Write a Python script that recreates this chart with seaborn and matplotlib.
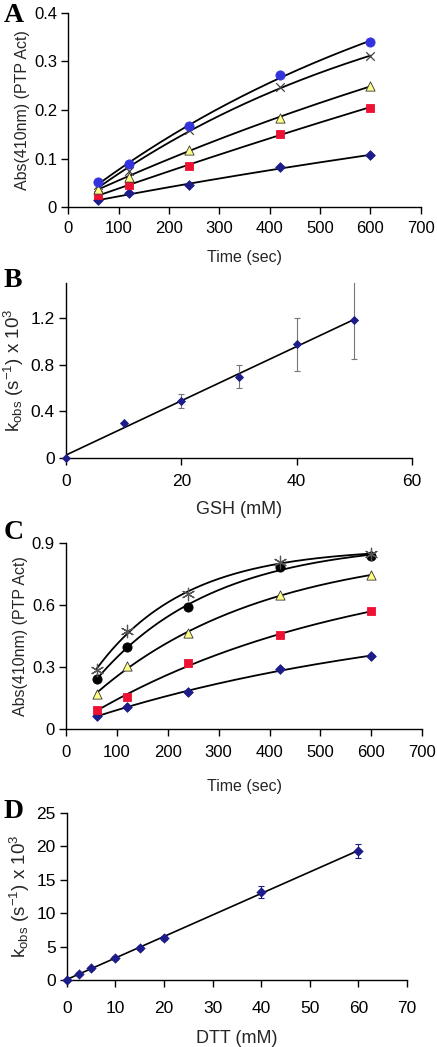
import numpy as np
import pandas as pd
import seaborn as sns
import matplotlib
matplotlib.use('Agg')
import matplotlib.pyplot as plt

sns.set_theme(style="ticks", palette=None)
plt.rcParams['font.family'] = ['Liberation Sans', 'DejaVu Sans']
plt.rcParams['mathtext.fontset'] = 'custom'
plt.rcParams['mathtext.rm'] = 'Liberation Sans'
plt.rcParams['mathtext.it'] = 'Liberation Sans'

# ---------------- data ----------------
time_s = [60, 120, 240, 420, 600]

# panel A (GSH)
a_diamond = [0.014, 0.029, 0.045, 0.082, 0.107]
a_square = [0.025, 0.046, 0.085, 0.151, 0.205]
a_triangle = [0.037, 0.063, 0.118, 0.184, 0.249]
a_cross = [0.046, 0.074, 0.158, 0.247, 0.310]
a_circle = [0.051, 0.088, 0.166, 0.271, 0.340]

# panel B
gsh_mm = [0, 10, 20, 30, 40, 50]
gsh_kobs = [0.0, 0.30, 0.487, 0.696, 0.974, 1.183]
gsh_err = [0.0, 0.0, 0.06, 0.10, 0.225, 0.335]

# panel C (DTT)
c_diamond = [0.062, 0.107, 0.180, 0.288, 0.353]
c_square = [0.094, 0.155, 0.317, 0.453, 0.571]
c_triangle = [0.168, 0.304, 0.463, 0.646, 0.746]
c_circle = [0.241, 0.395, 0.591, 0.785, 0.835]
c_star = [0.285, 0.474, 0.652, 0.808, 0.847]

# panel D
dtt_mm = [0, 2.5, 5, 10, 15, 20, 40, 60]
dtt_kobs = [0.0, 0.95, 1.75, 3.35, 4.85, 6.35, 13.15, 19.3]
dtt_err = [0.0, 0.2, 0.25, 0.3, 0.3, 0.3, 0.9, 1.05]

NAVY = '#1c1c8a'
KOBS = r'k$_{\mathregular{obs}}$ (s$^{\mathregular{-1}}$) x 10$^{\mathregular{3}}$'

series_a = [
    (a_diamond, 'D', NAVY, NAVY, 24),
    (a_square, 's', '#ee1133', '#ee1133', 38),
    (a_triangle, '^', '#ffff88', '#333333', 44),
    (a_cross, 'x', '#444444', '#444444', 38),
    (a_circle, 'o', '#3333dd', '#3333dd', 44),
]
series_c = [
    (c_diamond, 'D', NAVY, NAVY, 24),
    (c_square, 's', '#ee1133', '#ee1133', 38),
    (c_triangle, '^', '#ffff88', '#333333', 44),
    (c_circle, 'o', 'black', 'black', 44),
    (c_star, (6, 2, 0), '#555555', '#555555', 80),
]


def exp_fit(x, y):
    # y = a + b*exp(-k x), best k by grid search
    x = np.asarray(x, float)
    y = np.asarray(y, float)
    best = None
    for k in np.linspace(1e-5, 0.01, 2000):
        A = np.column_stack([np.ones_like(x), np.exp(-k * x)])
        coef, *_ = np.linalg.lstsq(A, y, rcond=None)
        r = np.sum((A @ coef - y) ** 2)
        if best is None or r < best[0]:
            best = (r, k, coef)
    _, k, coef = best
    xs = np.linspace(x.min(), x.max(), 200)
    return xs, coef[0] + coef[1] * np.exp(-k * xs)


def style_axis(ax, size, xpad):
    sns.despine(ax=ax)
    for sp in ['left', 'bottom']:
        ax.spines[sp].set_linewidth(1.0)
        ax.spines[sp].set_color('black')
    ax.tick_params(direction='out', length=5, width=1.0, colors='black',
                   labelsize=size, pad=3)
    ax.tick_params(axis='x', pad=xpad)


def time_panel(ax, series, ymax, yticks, ylabels, xpad, lpad):
    for vals, mk, fc, ec, s in series:
        xs, ys = exp_fit(time_s, vals)
        ax.plot(xs, ys, color='black', lw=1.3, zorder=2)
    for vals, mk, fc, ec, s in series:
        df = pd.DataFrame({'t': time_s, 'y': vals})
        if mk in ('x',) or isinstance(mk, tuple):
            sns.scatterplot(data=df, x='t', y='y', marker=mk, color=fc, s=s,
                            linewidth=0.9, ax=ax, zorder=3)
        else:
            sns.scatterplot(data=df, x='t', y='y', marker=mk, color=fc,
                            edgecolor=ec, s=s, linewidth=0.6, ax=ax, zorder=3)
    ax.set_xlim(0, 700)
    ax.set_ylim(0, ymax)
    ax.set_xticks(range(0, 701, 100))
    ax.set_yticks(yticks)
    ax.set_yticklabels(ylabels)
    ax.set_xlabel('Time (sec)', fontsize=11.5, labelpad=lpad)
    ax.set_ylabel('Abs(410nm) (PTP Act)', fontsize=11.5, labelpad=3)
    style_axis(ax, 12, xpad)


fig = plt.figure(figsize=(4.37, 10.47), dpi=100)

axA = fig.add_axes([0.156, 0.802, 0.807, 0.186])
axB = fig.add_axes([0.151, 0.5626, 0.792, 0.1671])
axC = fig.add_axes([0.151, 0.3037, 0.815, 0.1777])
axD = fig.add_axes([0.153, 0.064, 0.778, 0.1595])

# A
time_panel(axA, series_a, 0.4, [0, 0.1, 0.2, 0.3, 0.4], ['0', '0.1', '0.2', '0.3', '0.4'],
           xpad=5, lpad=10)

# B
dfB = pd.DataFrame({'x': gsh_mm, 'y': gsh_kobs, 'e': gsh_err})
pB = np.polyfit(gsh_mm, gsh_kobs, 1)
xb = np.array([0, 50])
axB.plot(xb, np.polyval(pB, xb), color='black', lw=1.2, zorder=2)
axB.errorbar(dfB['x'], dfB['y'], yerr=dfB['e'], fmt='none', ecolor='#777777',
             elinewidth=0.8, capsize=2.5, capthick=0.8, zorder=2)
sns.scatterplot(data=dfB, x='x', y='y', marker='D', color=NAVY, s=22,
                linewidth=0, ax=axB, zorder=3, clip_on=False)
axB.set_xlim(0, 60)
axB.set_ylim(0, 1.5)
axB.set_xticks([0, 20, 40, 60])
axB.set_yticks([0, 0.4, 0.8, 1.2])
axB.set_yticklabels(['0', '0.4', '0.8', '1.2'])
axB.set_xlabel('GSH (mM)', fontsize=13, labelpad=9)
axB.set_ylabel(KOBS, fontsize=13.5, labelpad=3)
style_axis(axB, 12.5, 6.5)

# C
time_panel(axC, series_c, 0.9, [0, 0.3, 0.6, 0.9], ['0', '0.3', '0.6', '0.9'],
           xpad=6.5, lpad=14)

# D
dfD = pd.DataFrame({'x': dtt_mm, 'y': dtt_kobs, 'e': dtt_err})
pD = np.polyfit(dtt_mm, dtt_kobs, 1)
xd = np.array([0, 60])
axD.plot(xd, np.polyval(pD, xd), color='black', lw=1.2, zorder=2)
axD.errorbar(dfD['x'], dfD['y'], yerr=dfD['e'], fmt='none', ecolor=NAVY,
             elinewidth=0.8, capsize=2.5, capthick=0.8, zorder=2)
sns.scatterplot(data=dfD, x='x', y='y', marker='D', color=NAVY, s=28,
                linewidth=0, ax=axD, zorder=3, clip_on=False)
axD.set_xlim(0, 70)
axD.set_ylim(0, 25)
axD.set_xticks(range(0, 71, 10))
axD.set_yticks(range(0, 26, 5))
axD.set_xlabel('DTT (mM)', fontsize=13, labelpad=10)
axD.set_ylabel(KOBS, fontsize=13.5, labelpad=3)
style_axis(axD, 12.5, 10)

for ax in [axA, axB, axC, axD]:
    ax.set_facecolor('white')

letter_font = dict(family=['Liberation Serif', 'DejaVu Serif'], fontsize=20,
                   fontweight='bold', color='black', va='top', ha='left')
fig.text(0.008, 0.997, 'A', **letter_font)
fig.text(0.008, 0.744, 'B', **letter_font)
fig.text(0.008, 0.503, 'C', **letter_font)
fig.text(0.008, 0.237, 'D', **letter_font)

fig.savefig('out.png', dpi=100, facecolor='white')
